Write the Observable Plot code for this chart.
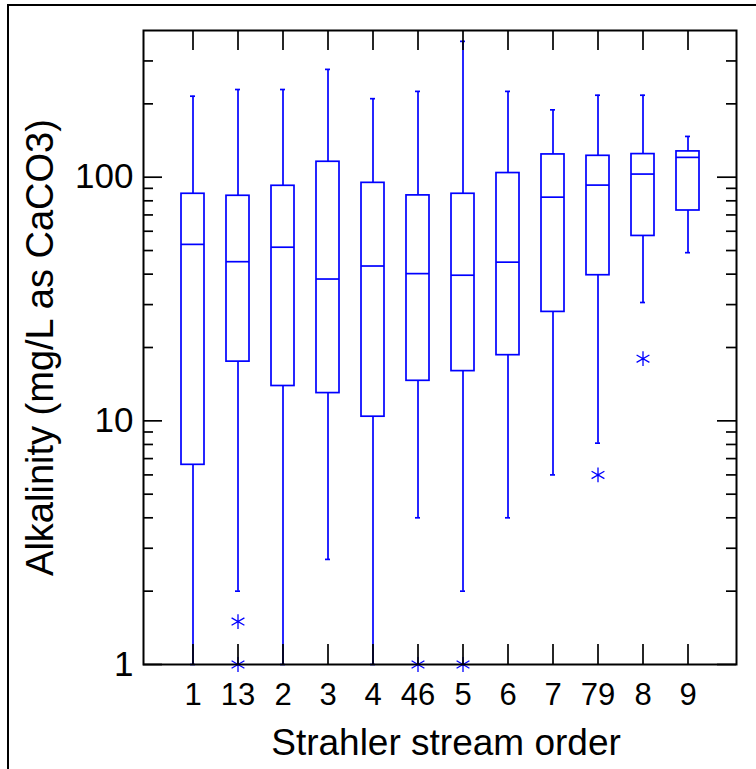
<!DOCTYPE html>
<html>
<head>
<meta charset="utf-8">
<script src="https://cdn.jsdelivr.net/npm/d3@7"></script>
<script src="https://cdn.jsdelivr.net/npm/@observablehq/plot@0.6"></script>
<style>
html, body { margin: 0; padding: 0; background: #fff; }
#wrap { position: relative; width: 756px; height: 769px; overflow: hidden; background: #fff; }
#outer { position: absolute; left: 7px; top: 4px; right: -10px; bottom: -10px; border-top: 2px solid #000; border-left: 2px solid #000; pointer-events: none; }
</style>
</head>
<body>
<div id="wrap"><div id="chart"></div><div id="outer"></div></div>
<script>
// Categories (Strahler stream order) and box statistics
const categories = ["1", "13", "2", "3", "4", "46", "5", "6", "7", "79", "8", "9"];
const whiskerLow  = [1,    2.0,  1,    2.7,   1,    4.0,  2.0,  4.0,  6.0,  8.1,   30.6,  49];
const q1          = [6.6,  17.5, 13.9, 13.0,  10.4, 14.6, 16.0, 18.6, 28.0, 39.6,  57.4,  73];
const median      = [53,   45,   51.6, 38.2,  43.2, 40.2, 39.6, 44.8, 82.8, 92.8,  103,   120.6];
const q3          = [85.5, 83.9, 92.2, 115.7, 94.8, 84.2, 85.5, 104,  124,  122.4, 124.4, 127.6];
const whiskerHigh = [215,  229,  229,  277,   210,  225,  361,  225,  189,  217,   217,   147];

const outlierCategory = ["13", "13", "46", "5", "79", "8"];
const outlierValue    = [1.5,  1,    1,    1,   6.0,  18.0];

const yMajorTicks = [1, 10, 100];
const yMinorTicks = [2, 3, 4, 5, 6, 7, 8, 9, 20, 30, 40, 50, 60, 70, 80, 90, 200, 300];

const xTitle = "Strahler stream order";
const yTitle = "Alkalinity (mg/L as CaCO3)";

const boxes = categories.map((c, i) => ({cat: c, lo: whiskerLow[i], q1: q1[i], med: median[i], q3: q3[i], hi: whiskerHigh[i]}));
const outliers = outlierCategory.map((c, i) => ({cat: c, v: outlierValue[i]}));

const W = 756, H = 769, mL = 143, mR = 20, mT = 30, mB = 105;
const fw = W - mL - mR, fh = H - mT - mB;
const blue = "#0000ff";
const lw = 1.7;

const chart = Plot.plot({
  width: W, height: H,
  marginLeft: mL, marginRight: mR, marginTop: mT, marginBottom: mB,
  style: {fontFamily: "'Liberation Sans', Arial, sans-serif", color: "#000", background: "#fff"},
  x: {type: "band", domain: categories, paddingInner: 0.49, paddingOuter: 0.745, align: 0.5},
  y: {type: "log", domain: [1, 400]},
  marks: [
    Plot.ruleX(boxes, {x: "cat", y1: "lo", y2: "q1", stroke: blue, strokeWidth: lw}),
    Plot.ruleX(boxes, {x: "cat", y1: "q3", y2: "hi", stroke: blue, strokeWidth: lw}),
    Plot.tickY(boxes, {x: "cat", y: "hi", stroke: blue, strokeWidth: lw, insetLeft: 9, insetRight: 9}),
    Plot.tickY(boxes, {x: "cat", y: "lo", stroke: blue, strokeWidth: lw, insetLeft: 9, insetRight: 9}),
    Plot.barY(boxes, {x: "cat", y1: "q1", y2: "q3", fill: "white", stroke: blue, strokeWidth: lw}),
    Plot.tickY(boxes, {x: "cat", y: "med", stroke: blue, strokeWidth: lw}),
    Plot.dot(outliers, {x: "cat", y: "v", symbol: "asterisk", r: 7, stroke: blue, strokeWidth: 1.3}),
    // inward ticks on all four sides
    Plot.tickY(yMajorTicks, {y: d => d, insetRight: fw - 19, stroke: "#000", strokeWidth: lw}),
    Plot.tickY(yMajorTicks, {y: d => d, insetLeft: fw - 19, stroke: "#000", strokeWidth: lw}),
    Plot.tickY(yMinorTicks, {y: d => d, insetRight: fw - 10, stroke: "#000", strokeWidth: lw}),
    Plot.tickY(yMinorTicks, {y: d => d, insetLeft: fw - 10, stroke: "#000", strokeWidth: lw}),
    Plot.tickX(categories, {x: d => d, insetBottom: fh - 20, stroke: "#000", strokeWidth: lw}),
    Plot.tickX(categories, {x: d => d, insetTop: fh - 20, stroke: "#000", strokeWidth: lw}),
    Plot.axisY({ticks: yMajorTicks, tickFormat: d => String(d), tickSize: 0, tickPadding: 10, fontSize: 35, label: null}),
    Plot.axisX({tickSize: 0, tickPadding: 18, fontSize: 31, label: null}),
    Plot.text([xTitle], {frameAnchor: "bottom", textAnchor: "middle", lineAnchor: "middle", dy: 79, dx: 6, fontSize: 37, fill: "#000"}),
    Plot.text([yTitle], {frameAnchor: "left", textAnchor: "middle", lineAnchor: "middle", rotate: -90, dx: -103, fontSize: 38, fill: "#000"}),
    Plot.frame({stroke: "#000", strokeWidth: 2})
  ]
});
document.getElementById("chart").appendChild(chart);
</script>
</body>
</html>
